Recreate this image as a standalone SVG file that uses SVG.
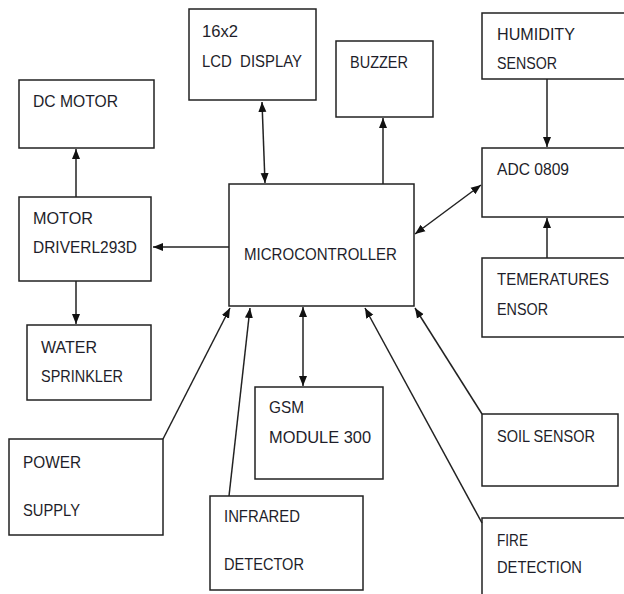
<svg xmlns="http://www.w3.org/2000/svg" width="624" height="594" viewBox="0 0 624 594">
<style>
rect{fill:#fff;stroke:#222;stroke-width:1.5}
text{font-family:"Liberation Sans",Arial,sans-serif;font-size:17px;fill:#1e1e2a}
.c line{stroke:#222;stroke-width:1.5}
</style>
<defs>
<marker id="ah" markerUnits="userSpaceOnUse" markerWidth="10" markerHeight="10" viewBox="0 0 10 10" refX="10" refY="5" orient="auto-start-reverse">
<path d="M0,1 L10,5 L0,9 Z" fill="#111"/>
</marker>
</defs>
<rect x="0" y="0" width="624" height="594" style="stroke:none"/>
<g id="lcd"><rect x="189" y="9" width="127" height="91"/><text x="202" y="37" textLength="36" lengthAdjust="spacingAndGlyphs">16x2</text><text x="202" y="67" textLength="100" lengthAdjust="spacingAndGlyphs" xml:space="preserve">LCD  DISPLAY</text></g>
<g id="dcmotor"><rect x="19" y="80" width="135" height="68"/><text x="33" y="107" textLength="85" lengthAdjust="spacingAndGlyphs">DC MOTOR</text></g>
<g id="buzzer"><rect x="336" y="41" width="97" height="76"/><text x="350" y="68" textLength="58" lengthAdjust="spacingAndGlyphs">BUZZER</text></g>
<g id="humidity"><rect x="482" y="13" width="150" height="66"/><text x="497" y="40" textLength="78" lengthAdjust="spacingAndGlyphs">HUMIDITY</text><text x="497" y="69" textLength="60" lengthAdjust="spacingAndGlyphs">SENSOR</text></g>
<g id="adc"><rect x="482" y="148" width="150" height="69"/><text x="497" y="175" textLength="72" lengthAdjust="spacingAndGlyphs">ADC 0809</text></g>
<g id="motordriver"><rect x="19" y="197" width="132" height="84"/><text x="33" y="224" textLength="60" lengthAdjust="spacingAndGlyphs">MOTOR</text><text x="33" y="253" textLength="104" lengthAdjust="spacingAndGlyphs">DRIVERL293D</text></g>
<g id="micro"><rect x="229" y="184" width="185" height="122"/><text x="244" y="260" textLength="153" lengthAdjust="spacingAndGlyphs">MICROCONTROLLER</text></g>
<g id="temp"><rect x="482" y="258" width="150" height="79"/><text x="497" y="285" textLength="112" lengthAdjust="spacingAndGlyphs">TEMERATURES</text><text x="497" y="315" textLength="51" lengthAdjust="spacingAndGlyphs">ENSOR</text></g>
<g id="sprinkler"><rect x="27" y="325" width="124" height="75"/><text x="41" y="353" textLength="56" lengthAdjust="spacingAndGlyphs">WATER</text><text x="41" y="382" textLength="82" lengthAdjust="spacingAndGlyphs">SPRINKLER</text></g>
<g id="gsm"><rect x="255" y="387" width="128" height="92"/><text x="269" y="413" textLength="35" lengthAdjust="spacingAndGlyphs">GSM</text><text x="269" y="443" textLength="102" lengthAdjust="spacingAndGlyphs">MODULE 300</text></g>
<g id="soil"><rect x="482" y="414" width="136" height="72"/><text x="497" y="442" textLength="98" lengthAdjust="spacingAndGlyphs">SOIL SENSOR</text></g>
<g id="power"><rect x="9" y="439" width="154" height="96"/><text x="23" y="468" textLength="58" lengthAdjust="spacingAndGlyphs">POWER</text><text x="23" y="516" textLength="57" lengthAdjust="spacingAndGlyphs">SUPPLY</text></g>
<g id="infrared"><rect x="210" y="496" width="153" height="94"/><text x="224" y="522" textLength="76" lengthAdjust="spacingAndGlyphs">INFRARED</text><text x="224" y="570" textLength="80" lengthAdjust="spacingAndGlyphs">DETECTOR</text></g>
<g id="fire"><rect x="482" y="518" width="150" height="90"/><text x="497" y="546" textLength="31" lengthAdjust="spacingAndGlyphs">FIRE</text><text x="497" y="573" textLength="85" lengthAdjust="spacingAndGlyphs">DETECTION</text></g>
<g id="connectors" class="c">
<line x1="76" y1="197" x2="76" y2="149" marker-end="url(#ah)"/>
<line x1="76" y1="281" x2="76" y2="324" marker-end="url(#ah)"/>
<line x1="229" y1="247" x2="153" y2="247" marker-end="url(#ah)"/>
<line x1="262" y1="102" x2="265" y2="183" marker-start="url(#ah)" marker-end="url(#ah)"/>
<line x1="383" y1="184" x2="383" y2="118" marker-end="url(#ah)"/>
<line x1="547" y1="79" x2="547" y2="147" marker-end="url(#ah)"/>
<line x1="547" y1="258" x2="547" y2="218" marker-end="url(#ah)"/>
<line x1="415" y1="234" x2="481" y2="185" marker-start="url(#ah)" marker-end="url(#ah)"/>
<line x1="303" y1="307" x2="303" y2="386" marker-start="url(#ah)" marker-end="url(#ah)"/>
<line x1="163" y1="439" x2="230" y2="308" marker-end="url(#ah)"/>
<line x1="229" y1="496" x2="250" y2="308" marker-end="url(#ah)"/>
<line x1="482" y1="523" x2="365" y2="308" marker-end="url(#ah)"/>
<line x1="482" y1="414" x2="415" y2="308" marker-end="url(#ah)"/>
</g>
</svg>
